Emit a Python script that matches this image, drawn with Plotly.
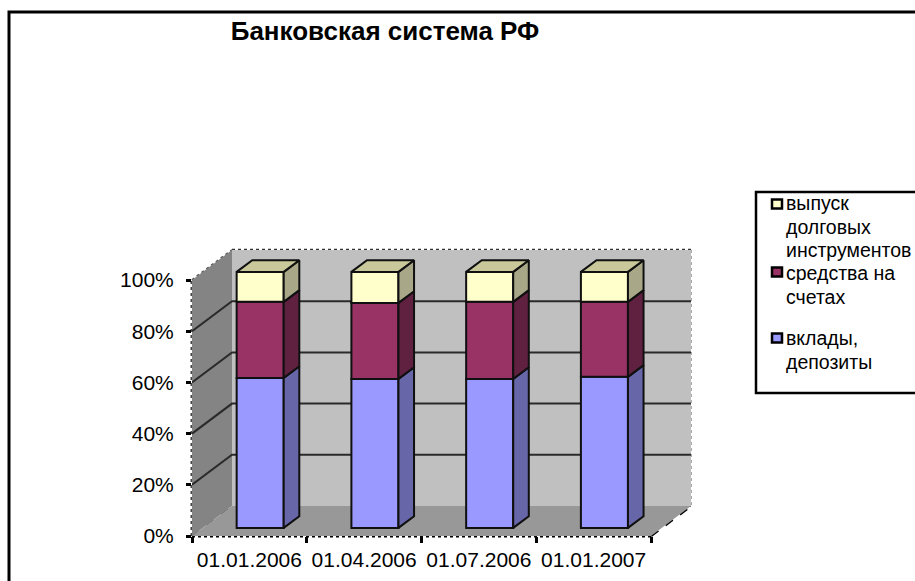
import plotly.graph_objects as go

categories = ["01.01.2006", "01.04.2006", "01.07.2006", "01.01.2007"]
deposits = [58.6, 58.2, 58.2, 59.0]
accounts = [29.7, 29.7, 30.1, 29.3]
debt = [11.7, 12.1, 11.7, 11.7]
y_ticks = [0, 20, 40, 60, 80, 100]
y_tick_labels = ["0%", "20%", "40%", "60%", "80%", "100%"]
title_text = "Банковская система РФ"
series_names = ["вклады, депозиты", "средства на счетах", "выпуск долговых инструментов"]
legend_lines = [["выпуск", "долговых", "инструментов"], ["средства на", "счетах"], ["вклады,", "депозиты"]]

front_colors = ["#9999FF", "#993366", "#FFFFCC"]
side_colors = ["#6666A8", "#602040", "#A8A888"]
top_color = "#C8C89A"

L, R, T, B = 192, 691, 250, 536
W, H = 915, 581
X_PX = 114.75
Y_PX = 2.56
DX = 40 / X_PX
DY = 30 / Y_PX
Z0, DZ = 0.27, 0.39
BAR_W = 0.41


def project(x, y, z):
    return x + z * DX, y + z * DY


def px(x):
    return (x - L) / (R - L)


def py(y):
    return (B - y) / (B - T)


fig = go.Figure()
series = [deposits, accounts, debt]
cum = [0.0] * len(categories)
for s, vals in enumerate(series):
    base = [c + Z0 * DY for c in cum]
    xs = [i + 0.5 + Z0 * DX for i in range(len(categories))]
    fig.add_trace(go.Bar(x=xs, y=vals, base=base, width=BAR_W, name=series_names[s],
                         marker=dict(color=front_colors[s], line=dict(color="#101010", width=2)),
                         showlegend=False, hoverinfo="name+y"))
    new = [c + v for c, v in zip(cum, vals)]
    for i in range(len(categories)):
        xr = i + 0.5 + BAR_W / 2
        pts = [project(xr, cum[i], Z0), project(xr, cum[i], Z0 + DZ),
               project(xr, new[i], Z0 + DZ), project(xr, new[i], Z0), project(xr, cum[i], Z0)]
        fig.add_trace(go.Scatter(x=[p[0] for p in pts], y=[p[1] for p in pts], mode="lines",
                                 fill="toself", fillcolor=side_colors[s],
                                 line=dict(color="#101010", width=2), showlegend=False, hoverinfo="skip"))
    cum = new
for i in range(len(categories)):
    xl = i + 0.5 - BAR_W / 2
    xr = i + 0.5 + BAR_W / 2
    pts = [project(xl, cum[i], Z0), project(xr, cum[i], Z0), project(xr, cum[i], Z0 + DZ),
           project(xl, cum[i], Z0 + DZ), project(xl, cum[i], Z0)]
    fig.add_trace(go.Scatter(x=[p[0] for p in pts], y=[p[1] for p in pts], mode="lines",
                             fill="toself", fillcolor=top_color,
                             line=dict(color="#101010", width=2), showlegend=False, hoverinfo="skip"))


def poly(points):
    return "M " + " L ".join(f"{a} {b}" for a, b in points) + " Z"


n = len(categories)
shapes = []
# back wall, left wall, floor
shapes.append(dict(type="path", xref="x", yref="y", layer="below", line=dict(width=0), fillcolor="#C0C0C0",
                   path=poly([project(0, 0, 1), project(n, 0, 1), project(n, 100, 1), project(0, 100, 1)])))
shapes.append(dict(type="path", xref="x", yref="y", layer="below", line=dict(width=0), fillcolor="#848484",
                   path=poly([project(0, 0, 0), project(0, 0, 1), project(0, 100, 1), project(0, 100, 0)])))
shapes.append(dict(type="path", xref="x", yref="y", layer="below", line=dict(width=0), fillcolor="#989898",
                   path=poly([project(0, 0, 0), project(n, 0, 0), project(n, 0, 1), project(0, 0, 1)])))
# gridlines
for v in y_ticks[1:-1]:
    a, b, c = project(0, v, 0), project(0, v, 1), project(n, v, 1)
    shapes.append(dict(type="path", xref="x", yref="y", layer="below", path=f"M {a[0]} {a[1]} L {b[0]} {b[1]} L {c[0]} {c[1]}",
                       line=dict(color="#2A2A2A", width=2)))


def edge(p, q, color="#222222", dash="dot", width=2):
    shapes.append(dict(type="line", xref="paper", yref="paper", layer="below",
                       x0=p[0] * X_PX / (R - L), y0=p[1] * Y_PX / (B - T),
                       x1=q[0] * X_PX / (R - L), y1=q[1] * Y_PX / (B - T),
                       line=dict(color=color, dash=dash, width=width)))


edge(project(0, 0, 0), project(n, 0, 0), "#000000", "dot", 3)
edge(project(0, 0, 0), project(0, 100, 0), "#444444", "dot", 3)
edge(project(0, 100, 0), project(0, 100, 1), "#555555", "dot", 2)
edge(project(0, 100, 1), project(n, 100, 1), "#333333", "dot", 2.5)
edge(project(n, 100, 1), project(n, 0, 1), "#AAAAAA", "dot", 2)
edge(project(n, 0, 0), project(n, 0, 1), "#000000", "dash", 2.5)
edge(project(0, 0, 0), project(0, 0, 1), "#333333", "dash", 1.5)
edge(project(0, 0, 1), project(n, 0, 1), "#666666", "solid", 2)

# frame
shapes.append(dict(type="rect", xref="paper", yref="paper", x0=px(9), x1=px(W + 10), y0=py(H + 10), y1=py(12),
                   line=dict(color="#000000", width=3), fillcolor="rgba(0,0,0,0)", layer="below"))
# legend box
shapes.append(dict(type="rect", xref="paper", yref="paper", x0=px(756), x1=px(W + 10), y0=py(393), y1=py(192),
                   line=dict(color="#000000", width=2.5), fillcolor="#FFFFFF"))

annotations = []
legend_rows = [(204, 203), (272, 273), (338, 338)]
LINE_STEP = 23.5
for k, lines in enumerate(legend_lines):
    sw_y, txt_y = legend_rows[k]
    color = front_colors[2 - k]
    shapes.append(dict(type="rect", xref="paper", yref="paper", x0=px(772), x1=px(782),
                       y0=py(sw_y + 4.5), y1=py(sw_y - 4.5), fillcolor=color,
                       line=dict(color="#000000", width=2.5)))
    for j, line in enumerate(lines):
        annotations.append(dict(xref="paper", yref="paper", x=px(784), y=py(txt_y + j * LINE_STEP),
                                xanchor="left", yanchor="middle", text=line, showarrow=False,
                                font=dict(family="Liberation Sans", size=19.5, color="#000000")))

fig.update_layout(
    width=W, height=H, autosize=False, margin=dict(l=L, r=W - R, t=T, b=H - B, pad=0),
    paper_bgcolor="#FFFFFF", plot_bgcolor="rgba(0,0,0,0)", barmode="overlay", showlegend=False,
    title=dict(text=f"<b>{title_text}</b>", xref="container", yref="container", x=385 / W, y=1 - 31 / H,
               xanchor="center", yanchor="middle", font=dict(family="Liberation Sans", size=26, color="#000000")),
    shapes=shapes, annotations=annotations,
    xaxis=dict(range=[0, (R - L) / X_PX], showgrid=False, zeroline=False, showline=False, automargin=False,
               tickmode="array", tickvals=[i + 0.5 for i in range(n)], ticktext=categories, ticks="",
               tickfont=dict(family="Liberation Sans", size=21, color="#000000"), ticklabelstandoff=9,
               minor=dict(tickmode="array", tickvals=list(range(n + 1)), ticks="outside", ticklen=6, tickwidth=3, tickcolor="#000000", showgrid=False)),
    yaxis=dict(range=[0, (B - T) / Y_PX], showgrid=False, zeroline=False, showline=False, automargin=False,
               tickmode="array", tickvals=y_ticks, ticktext=y_tick_labels, ticks="outside", ticklen=5, tickwidth=3,
               tickcolor="#000000", tickfont=dict(family="Liberation Sans", size=21, color="#000000"), ticklabelstandoff=8),
)

fig.write_html("out.html", config=dict(displayModeBar=False),
               post_script="document.body.style.margin='0';document.body.style.overflow='hidden';")
